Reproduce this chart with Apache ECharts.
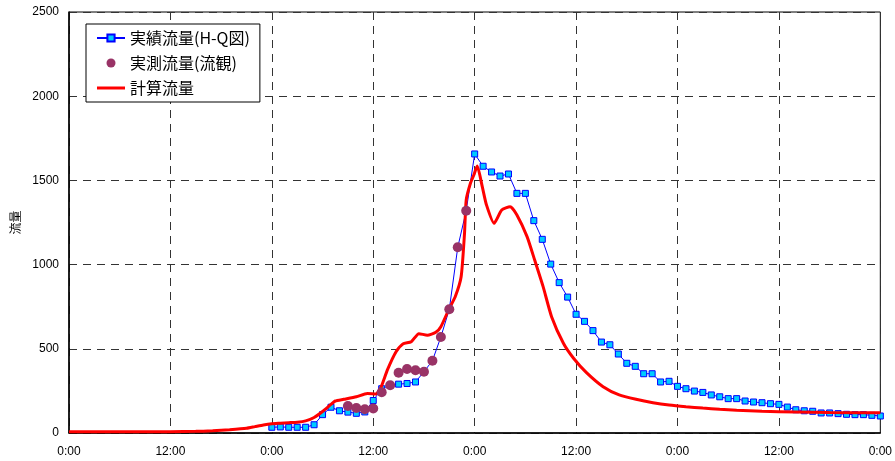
<!DOCTYPE html>
<html>
<head>
<meta charset="utf-8">
<script src="https://cdn.jsdelivr.net/npm/echarts@6/dist/echarts.min.js"></script>
<style>
    html, body {margin: 0; padding: 0; background: #fff;}
    #chart {width: 895px; height: 461px;}
</style>
</head>
<body>
<div id="chart"></div>
<script>
    // 時刻(時間) 0..96
    var hqHours = [];
    for (var h = 24; h <= 96; h++) hqHours.push(h);
    // 実績流量(H-Q図) 24時～96時 毎時
    var hqFlow = [34, 36, 34, 34, 34, 49, 109, 153, 132, 124, 117, 125, 193, 263, 284, 290, 294, 303,
        364, 429, 570, 735, 1103, 1320, 1657, 1584, 1550, 1526, 1538, 1423, 1423, 1261, 1150, 1003,
        893, 807, 705, 663, 608, 540, 524, 469, 414, 396, 352, 352, 303, 307, 277, 263, 249, 241,
        226, 215, 204, 204, 190, 184, 180, 174, 170, 154, 138, 132, 129, 119, 119, 115, 111, 109,
        109, 105, 101];

    // 実測流量(流観)
    var obsHours = [33, 34, 35, 36, 37, 38, 39, 40, 41, 42, 43, 44, 45, 46, 47];
    var obsFlow = [160, 148, 141, 145, 242, 284, 358, 380, 373, 364, 429, 570, 735, 1103, 1320];

    // 計算流量
    var calcHours = [0, 6, 12, 15, 17, 19, 21, 22, 23, 24, 25, 26, 27, 28, 29, 30, 31, 31.5, 32.5, 34,
        35.3, 36.3, 36.9, 37.7, 38.7, 39.5, 40.5, 41.4, 42.4, 43.4, 44, 45, 45.7, 46.4, 46.8, 47,
        47.5, 47.9, 48.3, 48.9, 49.4, 50.3, 51.2, 52.2, 53, 54.2, 55.1, 56.1, 57.1, 58.5, 59.7,
        61.2, 63.2, 65.1, 67.1, 69.1, 71, 73, 75, 77, 79, 82, 86, 90, 96];
    var calcFlow = [8, 8, 8, 10, 14, 20, 28, 38, 48, 55, 58, 61, 64, 72, 92, 128, 170, 190, 200, 215,
        235, 232, 270, 378, 483, 529, 542, 590, 581, 598, 631, 740, 809, 928, 1186, 1384,
        1483, 1532, 1585, 1463, 1354, 1245, 1324, 1344, 1295, 1166, 1027, 869, 691, 533, 444,
        360, 275, 226, 200, 180, 166, 156, 148, 141, 135, 129, 125, 121, 120];

    function pairs(xs, ys) {
        var out = [];
        for (var i = 0; i < xs.length; i++) out.push([xs[i], ys[i]]);
        return out;
    }

    var chart = echarts.init(document.getElementById('chart'));
    var dash = {color: '#333', width: 1, type: [8, 6]};
    chart.setOption({
        animation: false,
        grid: {left: 69, right: 9, top: 12, bottom: 28, show: true, borderColor: '#000', borderWidth: 1},
        legend: {
            orient: 'vertical',
            left: 86,
            top: 24,
            padding: [6, 10, 6, 10],
            itemGap: 9,
            itemWidth: 28,
            itemHeight: 9,
            symbolKeepAspect: true,
            backgroundColor: '#fff',
            borderColor: '#000',
            borderWidth: 1,
            borderRadius: 0,
            textStyle: {fontSize: 16, color: '#000', fontFamily: 'Noto Sans CJK JP', lineHeight: 16},
            data: [
                {name: '実績流量(H-Q図)'},
                {name: '実測流量(流観)', icon: 'circle'},
                {name: '計算流量', icon: 'path://M0,0H28V3H0Z'}
            ]
        },
        xAxis: {
            type: 'value',
            min: 0,
            max: 96,
            interval: 12,
            axisLine: {lineStyle: {color: '#000', width: 1.5}},
            axisTick: {show: false},
            axisLabel: {
                color: '#000', fontSize: 12, fontFamily: 'Liberation Sans', margin: 13,
                formatter: function (v) { return (v % 24 === 0) ? '0:00' : '12:00'; }
            },
            splitLine: {lineStyle: dash}
        },
        yAxis: {
            type: 'value',
            min: 0,
            max: 2500,
            interval: 500,
            name: '流量',
            nameLocation: 'middle',
            nameGap: 44,
            nameTextStyle: {fontSize: 12, color: '#000', fontFamily: 'Noto Sans CJK JP'},
            axisLine: {show: true, lineStyle: {color: '#000', width: 1.5}},
            axisTick: {show: false},
            axisLabel: {
                color: '#000', fontSize: 12, fontFamily: 'Liberation Sans', margin: 10,
                formatter: function (v) { return String(v); }
            },
            splitLine: {lineStyle: dash}
        },
        series: [
            {
                name: '実績流量(H-Q図)',
                type: 'line',
                z: 2,
                data: pairs(hqHours, hqFlow),
                symbol: 'rect',
                symbolSize: 6,
                showAllSymbol: true,
                lineStyle: {color: '#0000ff', width: 1},
                itemStyle: {color: '#00ccff', borderColor: '#0000ff', borderWidth: 1}
            },
            {
                name: '実測流量(流観)',
                type: 'scatter',
                z: 4,
                data: pairs(obsHours, obsFlow),
                symbolSize: 10,
                itemStyle: {color: '#993366', opacity: 1}
            },
            {
                name: '計算流量',
                type: 'line',
                z: 3,
                data: pairs(calcHours, calcFlow),
                symbol: 'none',
                smooth: 0.2,
                lineStyle: {color: '#ff0000', width: 3},
                itemStyle: {color: '#ff0000'}
            }
        ]
    });
</script>
</body>
</html>
